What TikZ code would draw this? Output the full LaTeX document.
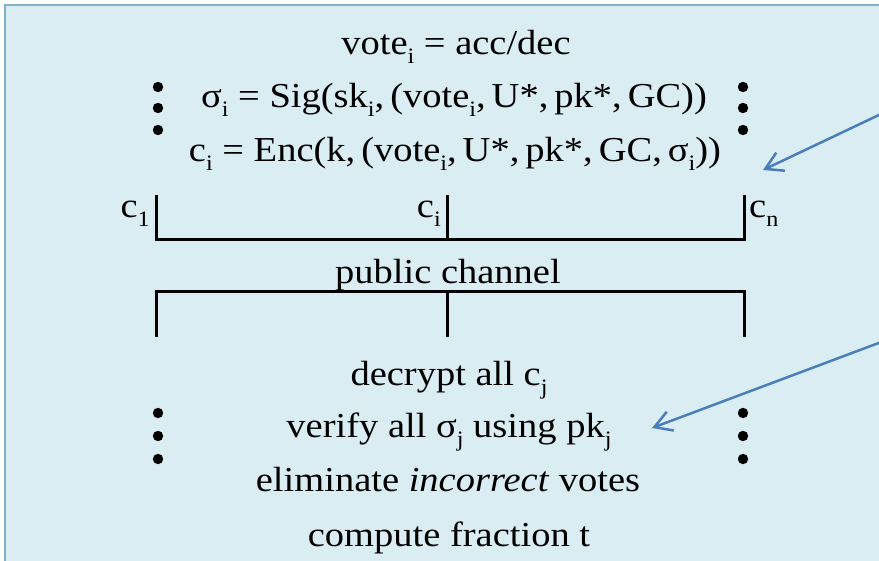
\documentclass[tikz,border=0pt]{standalone}
\usepackage{fontspec}
\setmainfont[FakeStretch=1.1]{Liberation Serif}
\usetikzlibrary{arrows.meta}

\definecolor{panel}{RGB}{218,237,243}
\definecolor{panelrim}{RGB}{125,180,200}
\definecolor{callout}{RGB}{74,126,187}

% lowered index, set smaller than the running text
\newcommand\lowidx[1]{\raisebox{-0.25em}{\fontsize{22}{22}\selectfont #1}}
% comma followed by a thin space, as in a formula
\newcommand\cm{,\hspace{6pt}}

\tikzset{
  line/.style={font=\fontsize{35}{42}\selectfont, inner sep=0pt, anchor=base},
  bracket/.style={draw=black, line width=3pt, line join=miter},
  vdot/.style={fill=black},
  callarrow/.style={draw=callout, line width=2.5pt,
    -{Straight Barb[length=17pt,width=20pt,line width=2.5pt]}},
}

\begin{document}
\begin{tikzpicture}[x=1pt,y=-1pt]
\useasboundingbox (0,0) rectangle (879,561);
\filldraw[fill=panel, draw=panelrim, line width=1.5pt] (5,5) rectangle (900,580);

% voter side
\node[line] (vote) at (456,55) {vote\lowidx{i} = acc/dec};
\node[line] (sig)  at (454,108) {σ\lowidx{i} = Sig(sk\lowidx{i}\cm(vote\lowidx{i}\cm U*\cm pk*\cm GC))};
\node[line] (enc)  at (455,162) {c\lowidx{i} = Enc(k\cm(vote\lowidx{i}\cm U*\cm pk*\cm GC\cm σ\lowidx{i}))};

% column dots above the channel
\foreach \y in {87,108,130} {
  \fill[vdot] (158,\y) circle (5.2pt);
  \fill[vdot] (743,\y) circle (5.2pt);
}

% ciphertexts entering the channel
\coordinate (a1) at (156,195); \coordinate (a2) at (156,240);
\coordinate (ai) at (447,195); \coordinate (aj) at (447,240);
\coordinate (an) at (744,195); \coordinate (am) at (744,240);
\draw[bracket] (a1) -- (a2) -- (am) -- (an);
\draw[bracket] (ai) -- (aj);
\node[line, anchor=base east] (c1) at (150,218) {c\lowidx{1}};
\node[line, anchor=base east] (ci) at (441,218) {c\lowidx{i}};
\node[line, anchor=base west] (cn) at (749,218) {c\lowidx{n}};

\node[line] (chan) at (448,284) {public channel};

% channel fanning out to the receivers
\coordinate (b1) at (156,337); \coordinate (b2) at (156,292);
\coordinate (bi) at (447,337); \coordinate (bj) at (447,292);
\coordinate (bn) at (744,337); \coordinate (bm) at (744,292);
\draw[bracket] (b1) -- (b2) -- (bm) -- (bn);
\draw[bracket] (bi) -- (bj);

% tallying side
\node[line] (dec)  at (449,386) {decrypt all c\lowidx{j}};
\node[line] (ver)  at (449,438) {verify all σ\lowidx{j} using pk\lowidx{j}};
\node[line] (elim) at (448,492) {eliminate \textit{incorrect} votes};
\node[line] (comp) at (449,546) {compute fraction t};

\foreach \y in {413,436,459} {
  \fill[vdot] (158,\y) circle (5.2pt);
  \fill[vdot] (743,\y) circle (5.2pt);
}

% call-out arrows coming in from the right
\coordinate (t1) at (900,105); \coordinate (h1) at (763,170);
\coordinate (t2) at (900,335); \coordinate (h2) at (652,428);
\draw[callarrow] (t1) -- (h1);
\draw[callarrow] (t2) -- (h2);
\end{tikzpicture}
\end{document}
